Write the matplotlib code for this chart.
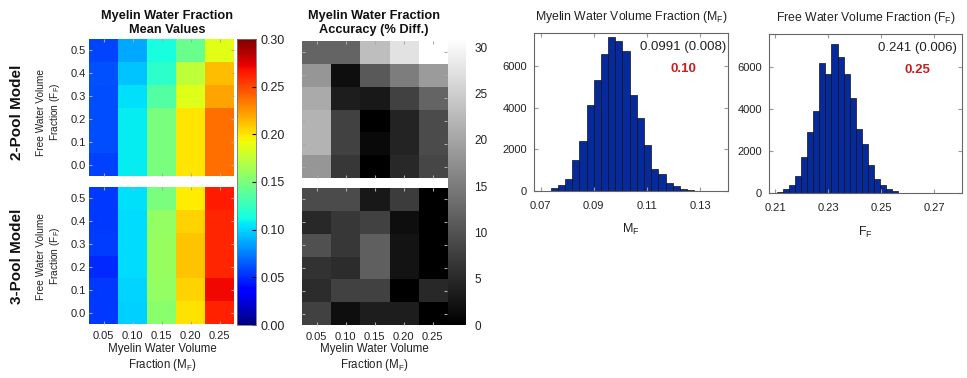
import matplotlib
matplotlib.use('Agg')
import matplotlib.pyplot as plt
import numpy as np

plt.rcParams['font.family'] = ['Liberation Sans', 'DejaVu Sans']

# axes values of the heat maps
mwf_values = [0.05, 0.10, 0.15, 0.20, 0.25]
fwf_values = [0.0, 0.1, 0.2, 0.3, 0.4, 0.5]

# mean myelin water fraction, rows = FF 0.0 ... 0.5
mean_2pool = [
    [0.057, 0.107, 0.149, 0.200, 0.237],
    [0.060, 0.107, 0.149, 0.200, 0.237],
    [0.060, 0.107, 0.149, 0.200, 0.237],
    [0.060, 0.104, 0.135, 0.186, 0.221],
    [0.061, 0.096, 0.121, 0.174, 0.213],
    [0.058, 0.087, 0.114, 0.144, 0.187],
]
mean_3pool = [
    [0.055, 0.099, 0.155, 0.201, 0.262],
    [0.055, 0.100, 0.159, 0.206, 0.270],
    [0.050, 0.103, 0.160, 0.210, 0.261],
    [0.056, 0.103, 0.160, 0.210, 0.261],
    [0.055, 0.103, 0.159, 0.206, 0.261],
    [0.055, 0.104, 0.149, 0.197, 0.264],
]

# accuracy (% difference), rows = FF 0.0 ... 0.5
diff_2pool = [
    [18.2, 6.7, 0.0, 4.9, 8.5],
    [21.9, 7.9, 1.2, 4.3, 9.1],
    [21.9, 7.9, 0.0, 4.3, 9.1],
    [20.7, 3.6, 3.0, 7.9, 12.2],
    [18.2, 1.8, 10.9, 15.2, 18.8],
    [12.2, 12.2, 23.1, 27.4, 31.0],
]
diff_3pool = [
    [7.9, 1.8, 3.6, 3.6, 0.0],
    [5.5, 7.9, 7.9, 0.0, 4.9],
    [6.1, 5.5, 11.6, 2.4, 0.0],
    [9.7, 6.7, 11.6, 2.4, 0.0],
    [4.9, 6.7, 7.9, 1.8, 0.0],
    [9.1, 9.1, 3.0, 7.3, 0.0],
]

# histograms
mf_centers = [0.06975, 0.07245, 0.07515, 0.07785, 0.08055, 0.08325, 0.08595,
              0.08865, 0.09135, 0.09405, 0.09675, 0.09945, 0.10215, 0.10485,
              0.10755, 0.11025, 0.11295, 0.11565, 0.11835, 0.12105, 0.12375,
              0.12645, 0.12915, 0.13185, 0.13455]
mf_counts = [5, 15, 160, 270, 560, 1500, 2380, 4100, 5300, 6540, 7360, 7180,
             6690, 4580, 3520, 2180, 1040, 800, 400, 240, 110, 30, 15, 8, 5]
ff_centers = [0.21175, 0.21405, 0.21635, 0.21865, 0.22095, 0.22325, 0.22555,
              0.22785, 0.23015, 0.23245, 0.23475, 0.23705, 0.23935, 0.24165,
              0.24395, 0.24625, 0.24855, 0.25085, 0.25315, 0.25545, 0.25775]
ff_counts = [30, 176, 370, 816, 1710, 2930, 3920, 6210, 5700, 7120, 6500,
             5700, 4560, 3040, 2340, 1360, 670, 370, 210, 80, 10]

fig = plt.figure(figsize=(9.67, 3.78), dpi=100)
W, H = 967.0, 378.0


def rect(x0, y0, x1, y1):
    return [x0 / W, 1 - y1 / H, (x1 - x0) / W, (y1 - y0) / H]


def heat(r, data, cmap, vmax, xlab, ylab):
    ax = fig.add_axes(r)
    im = ax.imshow(np.array(data), cmap=cmap, vmin=0, vmax=vmax, origin='lower',
                   aspect='auto', interpolation='nearest',
                   extent=[0.025, 0.275, -0.05, 0.55])
    ax.set_xticks(mwf_values)
    ax.set_yticks(fwf_values)
    ax.tick_params(direction='in', length=2, color='#aaaaaa', labelsize=8,
                   top=True, right=True, pad=2, labelcolor='#222222')
    ax.tick_params(axis='x', pad=5)
    ax.set_xticklabels(['%.2f' % v for v in mwf_values] if xlab else [])
    ax.set_yticklabels(['%.1f' % v for v in fwf_values] if ylab else [])
    for s in ax.spines.values():
        s.set_visible(False)
    return im


im1 = heat(rect(89, 39, 234, 176), mean_2pool, 'jet', 0.30, False, True)
heat(rect(89, 187, 234, 324), mean_3pool, 'jet', 0.30, True, True)
im2 = heat(rect(302, 41, 447, 178), diff_2pool, 'gray', 31, False, False)
heat(rect(302, 188, 447, 325), diff_3pool, 'gray', 31, True, False)

cax1 = fig.add_axes(rect(237, 39, 256, 325))
cb1 = fig.colorbar(im1, cax=cax1, ticks=[0, 0.05, 0.10, 0.15, 0.20, 0.25, 0.30])
cb1.ax.set_yticklabels(['0.00', '0.05', '0.10', '0.15', '0.20', '0.25', '0.30'])
cb1.ax.tick_params(direction='in', length=3, width=0.8, color='black', labelsize=9,
                   pad=3, labelcolor='#222222')
cb1.outline.set_edgecolor('#777777')
cb1.outline.set_linewidth(0.6)

cax2 = fig.add_axes(rect(448, 38, 466, 325))
cb2 = fig.colorbar(im2, cax=cax2, ticks=[0, 5, 10, 15, 20, 25, 30])
cb2.ax.tick_params(length=0, labelsize=8.5, pad=6, labelcolor='#222222')
cb2.outline.set_visible(False)

sub = r'$_\mathregular{F}$'
fig.text(167 / W, 1 - 23 / H, 'Myelin Water Fraction\nMean Values', ha='center',
         va='center', fontsize=9.2, fontweight='bold', linespacing=1.15,
         color='#111111')
fig.text(374 / W, 1 - 23 / H, 'Myelin Water Fraction\nAccuracy (% Diff.)', ha='center',
         va='center', fontsize=9.2, fontweight='bold', linespacing=1.15,
         color='#111111')
for xc in (162, 374):
    fig.text(xc / W, 1 - 358 / H, 'Myelin Water Volume\nFraction (M' + sub + ')',
             ha='center', va='center', fontsize=8.3, linespacing=1.15,
             color='#222222')
for yc, name in ((112, '2-Pool Model'), (256, '3-Pool Model')):
    fig.text(17 / W, 1 - yc / H, name, rotation=90, ha='center', va='center',
             fontsize=11, fontweight='bold', color='#111111')
    fig.text(49 / W, 1 - yc / H, 'Free Water Volume\nFraction (F' + sub + ')',
             rotation=90, ha='center', va='center', fontsize=7.3, linespacing=1.2,
             color='#222222')


def hist(r, centers, counts, width, xlim, ylim, xticks, title, xlab, est, truth):
    ax = fig.add_axes(r)
    ax.bar(centers, counts, width=width, color='#062a9c', edgecolor='#111111',
           linewidth=0.5)
    ax.set_xlim(xlim)
    ax.set_ylim(ylim)
    ax.set_xticks(xticks)
    ax.set_xticklabels(['%.2f' % v for v in xticks])
    ax.set_yticks([0, 2000, 4000, 6000])
    ax.tick_params(direction='in', length=3, color='#999999', labelsize=8,
                   top=True, right=True, labelcolor='#222222')
    ax.tick_params(axis='x', pad=7)
    ax.tick_params(axis='y', pad=5)
    for s in ax.spines.values():
        s.set_edgecolor('#666666')
        s.set_linewidth(0.8)
    ax.text(0.5, 1.1, title, transform=ax.transAxes, ha='center', va='center',
            fontsize=8.8, color='#222222')
    ax.text(0.5, -0.245, xlab, transform=ax.transAxes, ha='center', va='center',
            fontsize=9, color='#222222')
    ax.text(0.77, 0.91, est, transform=ax.transAxes, ha='center', va='center',
            fontsize=9.5, color='#222222')
    ax.text(0.77, 0.775, truth, transform=ax.transAxes, ha='center', va='center',
            fontsize=9.5, color='#c42121', fontweight='bold')


hist(rect(534, 33, 728, 191), mf_centers, mf_counts, 0.0027, (0.0675, 0.1405),
     (0, 7570), [0.07, 0.09, 0.11, 0.13],
     'Myelin Water Volume Fraction (M' + sub + ')', 'M' + sub,
     '0.0991 (0.008)', '0.10')
hist(rect(769, 34, 962, 193), ff_centers, ff_counts, 0.0023, (0.2077, 0.2806),
     (0, 7600), [0.21, 0.23, 0.25, 0.27],
     'Free Water Volume Fraction (F' + sub + ')', 'F' + sub,
     '0.241 (0.006)', '0.25')

fig.savefig('out.png', dpi=100)
